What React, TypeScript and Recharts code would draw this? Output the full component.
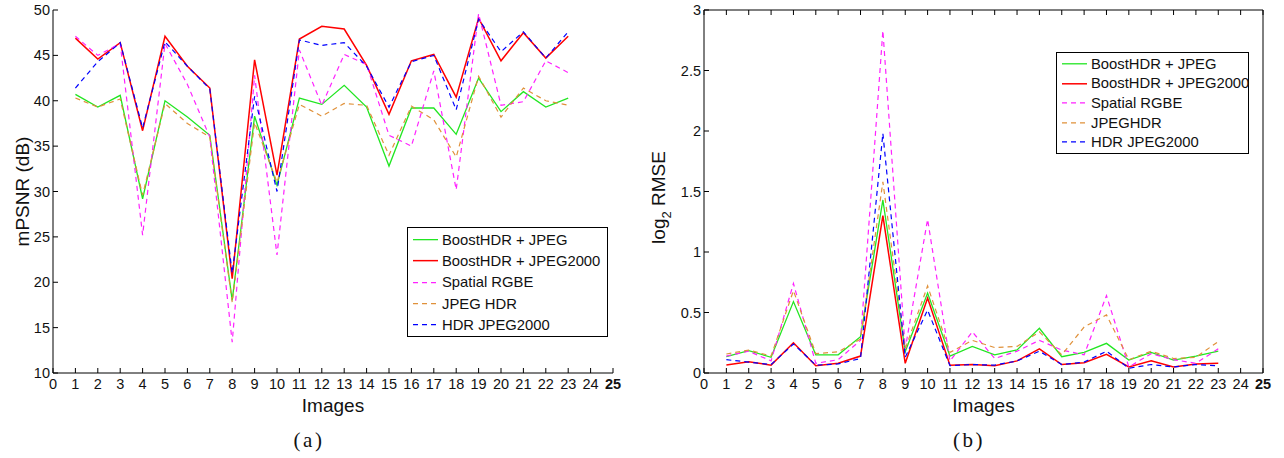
import React from "react";
import { Legend, Line, LineChart, XAxis, YAxis, Label } from "recharts";

const images = [1, 2, 3, 4, 5, 6, 7, 8, 9, 10, 11, 12, 13, 14, 15, 16, 17, 18, 19, 20, 21, 22, 23];
const xTicks = [0, 1, 2, 3, 4, 5, 6, 7, 8, 9, 10, 11, 12, 13, 14, 15, 16, 17, 18, 19, 20, 21, 22, 23, 24, 25];
const psnrTicks = [10, 15, 20, 25, 30, 35, 40, 45, 50];
const rmseTicks = [0, 0.5, 1, 1.5, 2, 2.5, 3];

const seriesNames = ["BoostHDR + JPEG", "BoostHDR + JPEG2000", "Spatial RGBE", "JPEG HDR", "HDR JPEG2000"];
const seriesNamesB = ["BoostHDR + JPEG", "BoostHDR + JPEG2000", "Spatial RGBE", "JPEGHDR", "HDR JPEG2000"];

// (a) mPSNR (dB)
const psnrBoostJpeg = [40.7, 39.3, 40.6, 29.2, 40.0, 38.2, 36.2, 18.0, 38.3, 30.7, 40.3, 39.6, 41.7, 39.3, 32.8, 39.2, 39.2, 36.3, 42.5, 38.8, 41.0, 39.3, 40.3];
const psnrBoostJ2k = [46.9, 44.6, 46.4, 36.7, 47.1, 43.8, 41.4, 20.4, 44.5, 31.8, 46.8, 48.2, 47.9, 43.9, 38.5, 44.4, 45.1, 40.4, 49.1, 44.4, 47.5, 44.7, 47.1];
const psnrRgbe = [47.1, 45.0, 46.3, 25.2, 46.3, 41.8, 36.0, 13.4, 42.8, 23.0, 45.6, 39.5, 45.1, 44.0, 36.2, 35.0, 43.3, 30.2, 49.6, 39.5, 39.9, 44.4, 43.1];
const psnrJpegHdr = [40.3, 39.3, 40.2, 29.6, 39.7, 37.5, 36.0, 17.8, 37.6, 31.0, 39.6, 38.3, 39.7, 39.5, 34.0, 39.4, 37.9, 33.8, 42.7, 38.2, 41.4, 40.0, 39.5];
const psnrHdrJ2k = [41.4, 44.3, 46.4, 37.0, 46.5, 43.8, 41.3, 21.0, 40.5, 30.0, 46.7, 46.1, 46.4, 43.8, 39.3, 44.3, 45.0, 39.0, 49.0, 45.4, 47.6, 44.7, 47.6];

// (b) log2 RMSE
const rmseBoostJpeg = [0.135, 0.185, 0.13, 0.59, 0.15, 0.15, 0.3, 1.43, 0.176, 0.66, 0.14, 0.22, 0.15, 0.19, 0.37, 0.135, 0.17, 0.245, 0.107, 0.17, 0.107, 0.14, 0.18];
const rmseBoostJ2k = [0.066, 0.093, 0.065, 0.25, 0.06, 0.08, 0.14, 1.3, 0.08, 0.62, 0.065, 0.07, 0.06, 0.1, 0.2, 0.07, 0.085, 0.155, 0.05, 0.1, 0.05, 0.075, 0.08];
const rmseRgbe = [0.14, 0.18, 0.1, 0.74, 0.08, 0.11, 0.27, 2.83, 0.2, 1.27, 0.1, 0.34, 0.12, 0.18, 0.27, 0.19, 0.15, 0.64, 0.05, 0.16, 0.11, 0.08, 0.2];
const rmseJpegHdr = [0.157, 0.19, 0.14, 0.68, 0.16, 0.175, 0.28, 1.58, 0.2, 0.72, 0.17, 0.27, 0.21, 0.22, 0.34, 0.15, 0.38, 0.48, 0.11, 0.18, 0.12, 0.13, 0.26];
const rmseHdrJ2k = [0.11, 0.09, 0.07, 0.24, 0.065, 0.075, 0.12, 1.98, 0.13, 0.52, 0.06, 0.07, 0.065, 0.1, 0.18, 0.07, 0.09, 0.18, 0.04, 0.07, 0.05, 0.07, 0.06];

const keys = ["boostJpeg", "boostJ2k", "rgbe", "jpegHdr", "hdrJ2k"];
const colors = ["#22e622", "#ff0000", "#ff22ff", "#e0913a", "#0000ff"];
const dashes = [undefined, undefined, "5 4", "5 4", "5 4"];
const widths = [1.3, 1.5, 1.2, 1.2, 1.2];

const psnrData = images.map((img, i) => ({
  image: img,
  boostJpeg: psnrBoostJpeg[i],
  boostJ2k: psnrBoostJ2k[i],
  rgbe: psnrRgbe[i],
  jpegHdr: psnrJpegHdr[i],
  hdrJ2k: psnrHdrJ2k[i],
}));

const rmseData = images.map((img, i) => ({
  image: img,
  boostJpeg: rmseBoostJpeg[i],
  boostJ2k: rmseBoostJ2k[i],
  rgbe: rmseRgbe[i],
  jpegHdr: rmseJpegHdr[i],
  hdrJ2k: rmseHdrJ2k[i],
}));

const FONT = '"Liberation Sans", Arial, Helvetica, sans-serif';
const SERIF = '"Liberation Serif", "DejaVu Serif", serif';
const TICK = 5;

function LeftTick(props: any) {
  const { x, y, payload } = props;
  return (
    <g>
      <line x1={x} y1={y} x2={x + TICK} y2={y} stroke="#000" strokeWidth={1} />
      <text x={x - 3} y={y + 5} textAnchor="end" fontSize={14.5} fontFamily={FONT} fill="#111">
        {payload.value}
      </text>
    </g>
  );
}

function RightTick(props: any) {
  const { x, y } = props;
  return <line x1={x - TICK} y1={y} x2={x} y2={y} stroke="#000" strokeWidth={1} />;
}

function BottomTick(props: any) {
  const { x, y, payload } = props;
  const last = payload.value === 25;
  return (
    <g>
      <line x1={x} y1={y} x2={x} y2={y - TICK} stroke="#000" strokeWidth={1} />
      <text x={x} y={y + 16} textAnchor="middle" fontSize={14.5} fontFamily={FONT} fill="#111" fontWeight={last ? 700 : 400}>
        {payload.value}
      </text>
    </g>
  );
}

function TopTick(props: any) {
  const { x, y } = props;
  return <line x1={x} y1={y} x2={x} y2={y + TICK} stroke="#000" strokeWidth={1} />;
}

function LegendBox({ names, rowH, width }: { names: string[]; rowH: number; width: number }) {
  return (
    <div
      style={{
        width,
        boxSizing: "border-box",
        border: "1.4px solid #000",
        background: "#fff",
        padding: "1px 0",
        fontFamily: FONT,
        fontSize: 14.8,
        color: "#111",
      }}
    >
      {names.map((n, i) => (
        <div key={n} style={{ display: "flex", alignItems: "center", height: rowH, whiteSpace: "nowrap" }}>
          <svg width={30} height={rowH} style={{ marginLeft: 4, flexShrink: 0 }}>
            <line x1={1} y1={rowH / 2} x2={26} y2={rowH / 2} stroke={colors[i]} strokeWidth={widths[i]} strokeDasharray={dashes[i]} />
          </svg>
          <span>{n}</span>
        </div>
      ))}
    </div>
  );
}

function RotLabel({ viewBox, cx, text, sub, rest }: any) {
  const cy = viewBox.y + viewBox.height / 2 + (sub ? 6 : 0);
  return (
    <text transform={`rotate(-90, ${cx}, ${cy})`} x={cx} y={cy} textAnchor="middle" fontSize={19} fontFamily={FONT} fill="#111">
      {text}
      {sub && (
        <tspan dy={6} fontSize={13}>
          {sub}
        </tspan>
      )}
      {rest && <tspan dy={sub ? -6 : 0}>{rest}</tspan>}
    </text>
  );
}

function series(xId?: string, yId?: string) {
  return keys.map((k, i) => (
    <Line
      key={k}
      xAxisId={xId}
      yAxisId={yId}
      type="linear"
      dataKey={k}
      name={seriesNames[i]}
      stroke={colors[i]}
      strokeWidth={widths[i]}
      strokeDasharray={dashes[i]}
      dot={false}
      activeDot={false}
      isAnimationActive={false}
    />
  ));
}

const captionStyle: React.CSSProperties = {
  position: "absolute",
  top: 440,
  transform: "translate(-50%, -50%)",
  fontFamily: SERIF,
  fontSize: 21,
  letterSpacing: 2.5,
  color: "#111",
};

export default function App() {
  return (
    <div style={{ position: "fixed", left: 0, top: 0, width: 1284, height: 458, background: "#fff", overflow: "hidden" }}>
      <div style={{ position: "absolute", left: 0, top: 0 }}>
        <LineChart width={640} height={420} data={psnrData} margin={{ top: 10, right: 27, left: 0, bottom: 17 }}>
          <XAxis
            dataKey="image"
            type="number"
            domain={[0, 25]}
            ticks={xTicks}
            interval={0}
            tickSize={0}
            tickMargin={0}
            tickLine={false}
            height={30}
            axisLine={{ stroke: "#000", strokeWidth: 1 }}
            tick={<BottomTick />}
          >
            <Label value="Images" position="insideBottom" offset={-9} fontSize={19} fontFamily={FONT} fill="#111" />
          </XAxis>
          <YAxis
            type="number"
            domain={[10, 50]}
            ticks={psnrTicks}
            interval={0}
            width={53}
            tickSize={0}
            tickMargin={0}
            tickLine={false}
            axisLine={{ stroke: "#000", strokeWidth: 1 }}
            tick={<LeftTick />}
            label={{ content: (p: any) => <RotLabel viewBox={p.viewBox} cx={29} text="mPSNR (dB)" /> }}
          />
          {series()}
          <Legend
            layout="vertical"
            align="center"
            verticalAlign="middle"
            wrapperStyle={{ left: 407, top: 227, width: 201 }}
            content={() => <LegendBox names={seriesNames} rowH={21.3} width={201} />}
          />
        </LineChart>
      </div>
      <div style={{ position: "absolute", left: 640, top: 0 }}>
        <LineChart width={644} height={420} data={rmseData} margin={{ top: 0, right: 0, left: 0, bottom: 17 }}>
          <XAxis
            xAxisId="b"
            dataKey="image"
            type="number"
            domain={[0, 25]}
            ticks={xTicks}
            interval={0}
            tickSize={0}
            tickMargin={0}
            tickLine={false}
            height={30}
            axisLine={{ stroke: "#000", strokeWidth: 1 }}
            tick={<BottomTick />}
          >
            <Label value="Images" position="insideBottom" offset={-9} fontSize={19} fontFamily={FONT} fill="#111" />
          </XAxis>
          <XAxis
            xAxisId="t"
            orientation="top"
            dataKey="image"
            type="number"
            domain={[0, 25]}
            ticks={xTicks}
            interval={0}
            tickSize={0}
            tickMargin={0}
            tickLine={false}
            height={10}
            axisLine={{ stroke: "#000", strokeWidth: 1 }}
            tick={<TopTick />}
          />
          <YAxis
            yAxisId="l"
            type="number"
            domain={[0, 3]}
            ticks={rmseTicks}
            interval={0}
            width={64}
            tickSize={0}
            tickMargin={0}
            tickLine={false}
            axisLine={{ stroke: "#000", strokeWidth: 1 }}
            tick={<LeftTick />}
            label={{ content: (p: any) => <RotLabel viewBox={p.viewBox} cx={25} text="log" sub="2" rest=" RMSE" /> }}
          />
          <YAxis
            yAxisId="r"
            orientation="right"
            type="number"
            domain={[0, 3]}
            ticks={rmseTicks}
            interval={0}
            width={21}
            tickSize={0}
            tickMargin={0}
            tickLine={false}
            axisLine={{ stroke: "#000", strokeWidth: 1 }}
            tick={<RightTick />}
          />
          {series("b", "l")}
          <Legend
            layout="vertical"
            align="center"
            verticalAlign="middle"
            wrapperStyle={{ left: 416, top: 52, width: 193 }}
            content={() => <LegendBox names={seriesNamesB} rowH={19.6} width={193} />}
          />
        </LineChart>
      </div>
      <div style={{ ...captionStyle, left: 309 }}>(a)</div>
      <div style={{ ...captionStyle, left: 969 }}>(b)</div>
    </div>
  );
}
